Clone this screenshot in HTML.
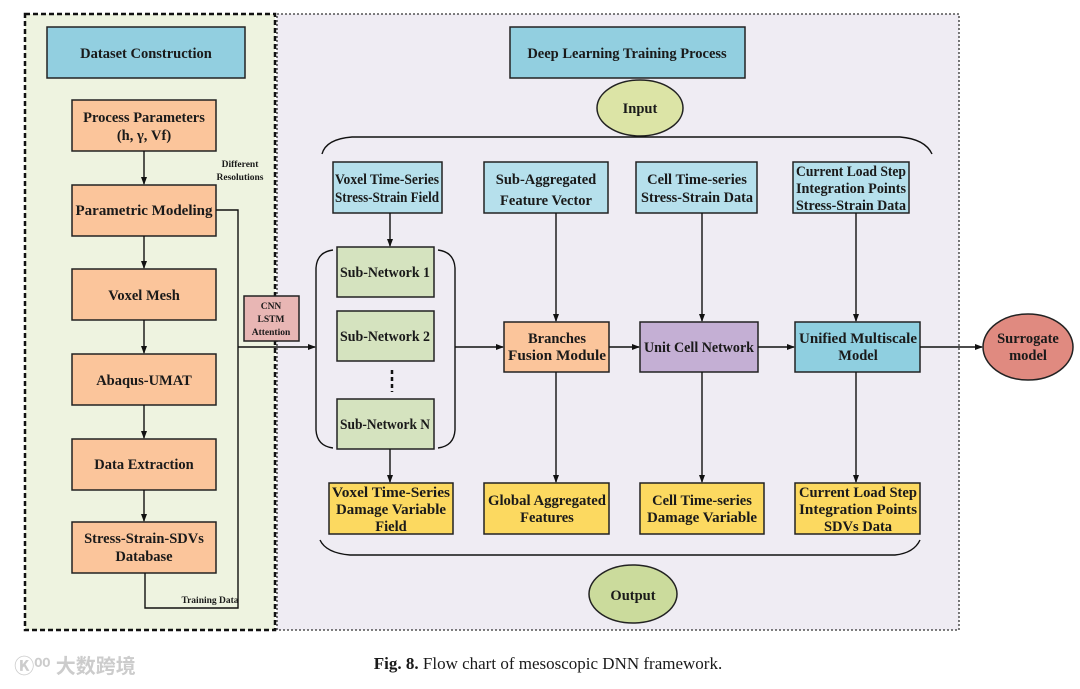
<!DOCTYPE html>
<html><head><meta charset="utf-8"><style>
html,body{margin:0;padding:0;background:#fff;}
svg{display:block}
text{font-family:"Liberation Serif",serif;font-weight:bold;fill:#1a1a1a;text-anchor:middle}
</style></head><body>
<svg width="1080" height="689" viewBox="0 0 1080 689" xmlns="http://www.w3.org/2000/svg">
<defs><marker id="a" markerWidth="8" markerHeight="8" refX="7" refY="4" orient="auto" markerUnits="userSpaceOnUse"><path d="M0,1 L8,4 L0,7 Z" fill="#111"/></marker></defs>
<rect x="277" y="14" width="682" height="616" fill="#efecf3" stroke="#333" stroke-width="1.3" stroke-dasharray="2,2"/>
<rect x="25" y="14" width="250" height="616" fill="#eef3e0" stroke="#111" stroke-width="2.5" stroke-dasharray="5,3"/>
<g stroke="#222" stroke-width="1.5">
<rect x="47" y="27" width="198" height="51" fill="#92cfe0"/>
<rect x="72" y="100" width="144" height="51" fill="#fbc59b"/>
<rect x="72" y="185" width="144" height="51" fill="#fbc59b"/>
<rect x="72" y="269" width="144" height="51" fill="#fbc59b"/>
<rect x="72" y="354" width="144" height="51" fill="#fbc59b"/>
<rect x="72" y="439" width="144" height="51" fill="#fbc59b"/>
<rect x="72" y="522" width="144" height="51" fill="#fbc59b"/>
<rect x="244" y="296" width="55" height="45" fill="#e8b6b4"/>
<rect x="510" y="27" width="235" height="51" fill="#92cfe0"/>
<ellipse cx="640" cy="108" rx="43" ry="28" fill="#dce4a6"/>
<rect x="333" y="162" width="109" height="51" fill="#b6e0ec"/>
<rect x="484" y="162" width="124" height="51" fill="#b6e0ec"/>
<rect x="636" y="162" width="121" height="51" fill="#b6e0ec"/>
<rect x="793" y="162" width="116" height="51" fill="#b6e0ec"/>
<rect x="337" y="247" width="97" height="50" fill="#d5e3bf"/>
<rect x="337" y="311" width="97" height="50" fill="#d5e3bf"/>
<rect x="337" y="399" width="97" height="50" fill="#d5e3bf"/>
<rect x="504" y="322" width="105" height="50" fill="#fbc59b"/>
<rect x="640" y="322" width="118" height="50" fill="#c4afd4"/>
<rect x="795" y="322" width="125" height="50" fill="#8fcfe0"/>
<ellipse cx="1028" cy="347" rx="45" ry="33" fill="#e08a80"/>
<rect x="329" y="483" width="124" height="51" fill="#fcd960"/>
<rect x="484" y="483" width="125" height="51" fill="#fcd960"/>
<rect x="640" y="483" width="124" height="51" fill="#fcd960"/>
<rect x="795" y="483" width="125" height="51" fill="#fcd960"/>
<ellipse cx="633" cy="594" rx="44" ry="29" fill="#cbdb9c"/>
</g>
<g stroke="#111" stroke-width="1.4" fill="none">
<line x1="144" y1="151" x2="144" y2="184" marker-end="url(#a)"/>
<line x1="144" y1="236" x2="144" y2="268" marker-end="url(#a)"/>
<line x1="144" y1="320" x2="144" y2="353" marker-end="url(#a)"/>
<line x1="144" y1="405" x2="144" y2="438" marker-end="url(#a)"/>
<line x1="144" y1="490" x2="144" y2="521" marker-end="url(#a)"/>
<path d="M216,210 H238 V608 H145 V573"/>
<line x1="238" y1="347" x2="315" y2="347" marker-end="url(#a)"/>
<path d="M322,154 Q326,139 352,137 H900 Q925,139 932,154"/>
<path d="M320,540 Q326,553 350,555 H895 Q914,553 920,540"/>
<line x1="390" y1="213" x2="390" y2="246" marker-end="url(#a)"/>
<line x1="556" y1="213" x2="556" y2="321" marker-end="url(#a)"/>
<line x1="702" y1="213" x2="702" y2="321" marker-end="url(#a)"/>
<line x1="856" y1="213" x2="856" y2="321" marker-end="url(#a)"/>
<path d="M333,250 Q317,252 316,268 V430 Q317,446 333,448"/>
<path d="M438,250 Q454,252 455,268 V430 Q454,446 438,448"/>
<line x1="455" y1="347" x2="503" y2="347" marker-end="url(#a)"/>
<line x1="609" y1="347" x2="639" y2="347" marker-end="url(#a)"/>
<line x1="758" y1="347" x2="794" y2="347" marker-end="url(#a)"/>
<line x1="920" y1="347" x2="982" y2="347" marker-end="url(#a)"/>
<line x1="390" y1="449" x2="390" y2="482" marker-end="url(#a)"/>
<line x1="556" y1="372" x2="556" y2="482" marker-end="url(#a)"/>
<line x1="702" y1="372" x2="702" y2="482" marker-end="url(#a)"/>
<line x1="856" y1="372" x2="856" y2="482" marker-end="url(#a)"/>
<line x1="392" y1="370" x2="392" y2="392" stroke-width="2.5" stroke-dasharray="4,3"/>
</g>
<g font-size="14.5">
<text x="146" y="58">Dataset Construction</text>
<text x="144" y="122">Process Parameters</text>
<text x="144" y="140">(h, γ, Vf)</text>
<text x="144" y="215" textLength="137" lengthAdjust="spacingAndGlyphs">Parametric Modeling</text>
<text x="144" y="300">Voxel Mesh</text>
<text x="144" y="385">Abaqus-UMAT</text>
<text x="144" y="469">Data Extraction</text>
<text x="144" y="543">Stress-Strain-SDVs</text>
<text x="144" y="561">Database</text>
<text x="627" y="58">Deep Learning Training Process</text>
<text x="640" y="113">Input</text>
<text x="387" y="184" textLength="104" lengthAdjust="spacingAndGlyphs">Voxel Time-Series</text>
<text x="387" y="202" textLength="104" lengthAdjust="spacingAndGlyphs">Stress-Strain Field</text>
<text x="546" y="184">Sub-Aggregated</text>
<text x="546" y="205">Feature Vector</text>
<text x="697" y="184">Cell Time-series</text>
<text x="697" y="202" textLength="112" lengthAdjust="spacingAndGlyphs">Stress-Strain Data</text>
<text x="851" y="176" textLength="110" lengthAdjust="spacingAndGlyphs">Current Load Step</text>
<text x="851" y="193" textLength="110" lengthAdjust="spacingAndGlyphs">Integration Points</text>
<text x="851" y="210" textLength="110" lengthAdjust="spacingAndGlyphs">Stress-Strain Data</text>
<text x="385" y="277" textLength="90" lengthAdjust="spacingAndGlyphs">Sub-Network 1</text>
<text x="385" y="341" textLength="90" lengthAdjust="spacingAndGlyphs">Sub-Network 2</text>
<text x="385" y="429" textLength="90" lengthAdjust="spacingAndGlyphs">Sub-Network N</text>
<text x="557" y="343">Branches</text>
<text x="557" y="360" textLength="98" lengthAdjust="spacingAndGlyphs">Fusion Module</text>
<text x="699" y="352" textLength="110" lengthAdjust="spacingAndGlyphs">Unit Cell Network</text>
<text x="858" y="343" textLength="118" lengthAdjust="spacingAndGlyphs">Unified Multiscale</text>
<text x="858" y="360">Model</text>
<text x="1028" y="343">Surrogate</text>
<text x="1028" y="360">model</text>
<text x="391" y="497" textLength="118" lengthAdjust="spacingAndGlyphs">Voxel Time-Series</text>
<text x="391" y="514" textLength="110" lengthAdjust="spacingAndGlyphs">Damage Variable</text>
<text x="391" y="531">Field</text>
<text x="547" y="505" textLength="118" lengthAdjust="spacingAndGlyphs">Global Aggregated</text>
<text x="547" y="522">Features</text>
<text x="702" y="505">Cell Time-series</text>
<text x="702" y="522" textLength="110" lengthAdjust="spacingAndGlyphs">Damage Variable</text>
<text x="858" y="497" textLength="118" lengthAdjust="spacingAndGlyphs">Current Load Step</text>
<text x="858" y="514" textLength="118" lengthAdjust="spacingAndGlyphs">Integration Points</text>
<text x="858" y="531">SDVs Data</text>
<text x="633" y="600">Output</text>
</g>
<g font-size="9.5">
<text x="240" y="167">Different</text>
<text x="240" y="180">Resolutions</text>
<text x="210" y="603">Training Data</text>
<text x="271" y="309">CNN</text>
<text x="271" y="322">LSTM</text>
<text x="271" y="335">Attention</text>
</g>
<text x="548" y="669" font-size="17">Fig. 8. <tspan style="font-weight:normal">Flow chart of mesoscopic DNN framework.</tspan></text>
<text x="75" y="673" font-size="20" style="fill:#ccc;font-family:'Liberation Sans','Noto Sans CJK SC',sans-serif">Ⓚ⁰⁰ 大数跨境</text>
</svg>
</body></html>
